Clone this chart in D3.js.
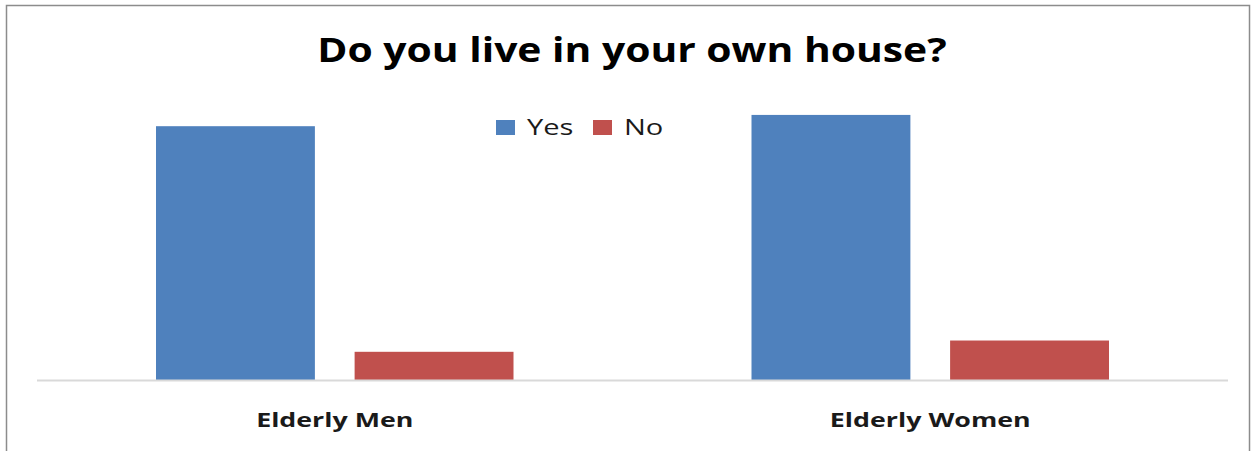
<!DOCTYPE html>
<html><head><meta charset="utf-8">
<script src="https://cdn.jsdelivr.net/npm/d3@7"></script>
<style>body{margin:0;background:#fff}svg{display:block}</style>
</head><body><svg id="c" width="1256" height="451"></svg>
<script>
const categories = ["Elderly Men", "Elderly Women"];
const seriesNames = ["Yes", "No"];
const yesValues = [90, 94];
const noValues = [10, 14];
const colors = ["#4F81BD", "#C0504D"];
const title = "Do you live in your own house?";

const svg = d3.select("#c");
const font = "'Open Sans', sans-serif";
// widen text horizontally (reference glyphs are stretched)
function stretch(sel, k) {
  sel.each(function(){ const w = this.getComputedTextLength();
    d3.select(this).attr("textLength", w*k).attr("lengthAdjust","spacingAndGlyphs"); });
}

svg.append("rect").attr("x",6.5).attr("y",5.5).attr("width",1243).attr("height",460)
  .attr("fill","#fff").attr("stroke","#8c8c8c").attr("stroke-width",1.5);

const x0 = d3.scaleBand().domain(categories).range([37,1228]).padding(0);
const x1 = d3.scaleBand().domain(seriesNames).range([119, x0.bandwidth()-119]).paddingInner(0.2);
const y = d3.scaleLinear().domain([0,100]).range([380,98]);
const data = categories.map((c,i)=>({cat:c, vals:[yesValues[i], noValues[i]]}));

const g = svg.selectAll("g.cat").data(data).join("g").attr("class","cat")
  .attr("transform", d=>`translate(${x0(d.cat)},0)`);
g.selectAll("rect").data(d=>d.vals.map((v,j)=>({s:seriesNames[j], v, j}))).join("rect")
  .attr("x", d=>x1(d.s)).attr("width", x1.bandwidth())
  .attr("y", d=>y(d.v)).attr("height", d=>y(0)-y(d.v))
  .attr("fill", d=>colors[d.j]);

svg.append("line").attr("x1",37).attr("x2",1228).attr("y1",380.5).attr("y2",380.5)
  .attr("stroke","#d9d9d9").attr("stroke-width",2);

const xAxis = d3.axisBottom(x0).tickSize(0).tickPadding(0);
const ax = svg.append("g").attr("transform","translate(0,380)").call(xAxis);
ax.select(".domain").remove();
ax.selectAll("text").attr("dy",0).attr("y",47).attr("font-family",font)
  .attr("font-weight","bold").attr("font-size",20).attr("fill","#1a1a1a")
  .call(stretch, 1.34);

svg.append("text").attr("x",632).attr("y",62).attr("text-anchor","middle")
  .attr("font-family",font).attr("font-weight","bold").attr("font-size",34).attr("fill","#000")
  .text(title).call(stretch, 1.2);

const lg = svg.append("g");
const lx = [496, 593];
seriesNames.forEach((s,i)=>{
  lg.append("rect").attr("x",lx[i]).attr("y",120).attr("width",19).attr("height",15).attr("fill",colors[i]);
  lg.append("text").attr("x",lx[i]+31).attr("y",135).attr("font-family",font).attr("font-size",22)
    .attr("fill","#1a1a1a").text(s).call(stretch, 1.32);
});
</script></body></html>
